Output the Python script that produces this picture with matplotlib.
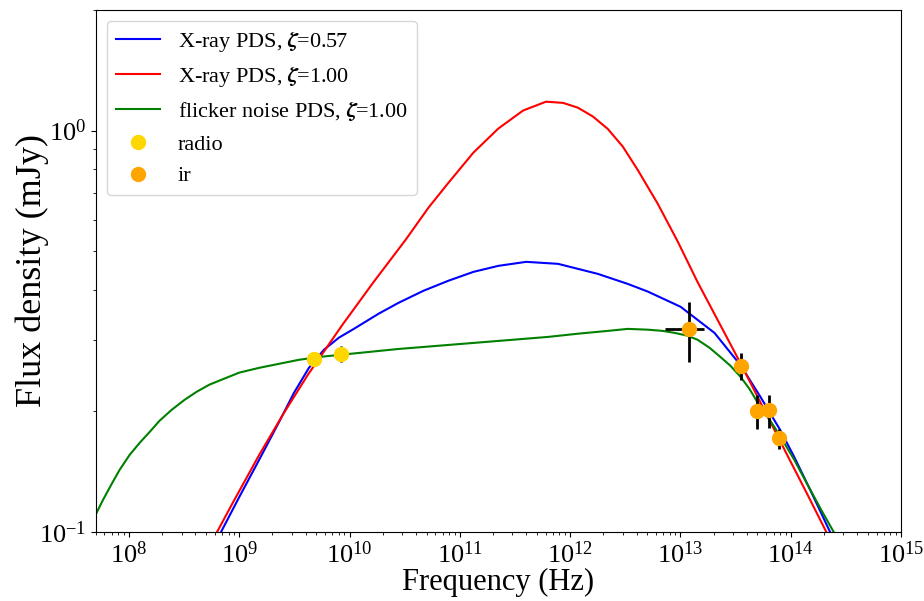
import numpy as np
import matplotlib
matplotlib.use('Agg')
import matplotlib.pyplot as plt

plt.rcParams['font.family'] = ['Liberation Serif', 'DejaVu Serif']
plt.rcParams['mathtext.fontset'] = 'stix'

# model curves (log10 of frequency in Hz, log10 of flux in mJy)
logf_xray057 = [8.835, 9.0, 9.181, 9.361, 9.497, 9.632, 9.768, 9.903, 10.039, 10.265, 10.445,
                10.671, 10.897, 11.123, 11.349, 11.602, 11.891, 12.252, 12.523, 12.704, 13.002,
                13.309, 13.544, 13.725, 13.905, 14.032, 14.194, 14.357]
logs_xray057 = [-1.0, -0.913, -0.820, -0.726, -0.653, -0.591, -0.546, -0.516, -0.494, -0.456,
                -0.429, -0.399, -0.374, -0.352, -0.337, -0.327, -0.332, -0.357, -0.382, -0.401,
                -0.439, -0.504, -0.584, -0.663, -0.746, -0.813, -0.905, -1.0]

logf_xray100 = [8.799, 8.946, 9.181, 9.406, 9.623, 9.930, 10.219, 10.509, 10.716, 10.897,
                11.123, 11.349, 11.574, 11.782, 11.936, 12.071, 12.207, 12.342, 12.478, 12.613,
                12.794, 12.975, 13.155, 13.336, 13.544, 13.742, 13.968, 14.149, 14.323]
logs_xray100 = [-1.0, -0.925, -0.808, -0.703, -0.608, -0.486, -0.377, -0.272, -0.192, -0.130,
                -0.055, 0.005, 0.050, 0.072, 0.069, 0.057, 0.035, 0.004, -0.040, -0.098,
                -0.182, -0.276, -0.377, -0.471, -0.579, -0.686, -0.808, -0.905, -1.0]

logf_flicker = [7.696, 7.765, 7.844, 7.916, 8.006, 8.097, 8.187, 8.277, 8.386, 8.503, 8.612,
                8.729, 8.864, 9.0, 9.181, 9.361, 9.542, 9.723, 10.084, 10.445, 10.897, 11.349,
                11.800, 12.071, 12.342, 12.523, 12.704, 12.839, 12.948, 13.065, 13.155, 13.264,
                13.363, 13.454, 13.544, 13.625, 13.697, 13.779, 13.851, 13.941, 14.032, 14.149,
                14.267, 14.390]
logs_flicker = [-0.958, -0.920, -0.880, -0.845, -0.808, -0.778, -0.751, -0.723, -0.696, -0.671,
                -0.651, -0.633, -0.618, -0.603, -0.591, -0.581, -0.571, -0.564, -0.554, -0.544,
                -0.534, -0.524, -0.514, -0.506, -0.499, -0.494, -0.496, -0.499, -0.504, -0.511,
                -0.521, -0.541, -0.564, -0.586, -0.613, -0.643, -0.676, -0.708, -0.738, -0.778,
                -0.820, -0.880, -0.940, -1.0]

# observed points
radio_nu = [4.8e9, 8.4e9]
radio_flux = [0.270, 0.278]
radio_err = [0.006, 0.013]

ir_nu = [1.19e13, 3.55e13, 4.9e13, 6.35e13, 7.9e13]
ir_flux = [0.320, 0.259, 0.200, 0.201, 0.171]
ir_err = [0.055, 0.020, 0.019, 0.019, 0.010]
ir_nu_err = [4.6e12, 0, 0, 0, 0]

fig = plt.figure(figsize=(9.24, 6.01), dpi=100)
ax = fig.add_axes([0.1036, 0.1148, 0.8715, 0.8690])

ax.plot(10**np.array(logf_xray057), 10**np.array(logs_xray057), color='blue', lw=1.5,
        label=r'X-ray PDS, $\boldsymbol{\zeta}$=0.57')
ax.plot(10**np.array(logf_xray100), 10**np.array(logs_xray100), color='red', lw=1.5,
        label=r'X-ray PDS, $\boldsymbol{\zeta}$=1.00')
ax.plot(10**np.array(logf_flicker), 10**np.array(logs_flicker), color='green', lw=1.5,
        label=r'flicker noise PDS, $\boldsymbol{\zeta}$=1.00')

ax.errorbar(radio_nu, radio_flux, yerr=radio_err, fmt='none', ecolor='black', elinewidth=2)
ax.errorbar(ir_nu, ir_flux, yerr=ir_err, xerr=ir_nu_err, fmt='none', ecolor='black', elinewidth=2)
ax.plot(radio_nu, radio_flux, 'o', color='gold', ms=10, label='radio')
ax.plot(ir_nu, ir_flux, 'o', color='orange', ms=10, label='ir')

ax.set_xscale('log')
ax.set_yscale('log')
ax.set_xlim(5e7, 1e15)
ax.set_ylim(0.1, 2.0)
ax.tick_params(axis='both', which='major', labelsize=19)
ax.set_xlabel('Frequency (Hz)', fontsize=22)
ax.set_ylabel('Flux density (mJy)', fontsize=26)
ax.xaxis.set_label_coords(0.5, -0.068)
ax.yaxis.set_label_coords(-0.058, 0.5)
ax.legend(loc='upper left', fontsize=16)

fig.savefig('out.png', dpi=100)
